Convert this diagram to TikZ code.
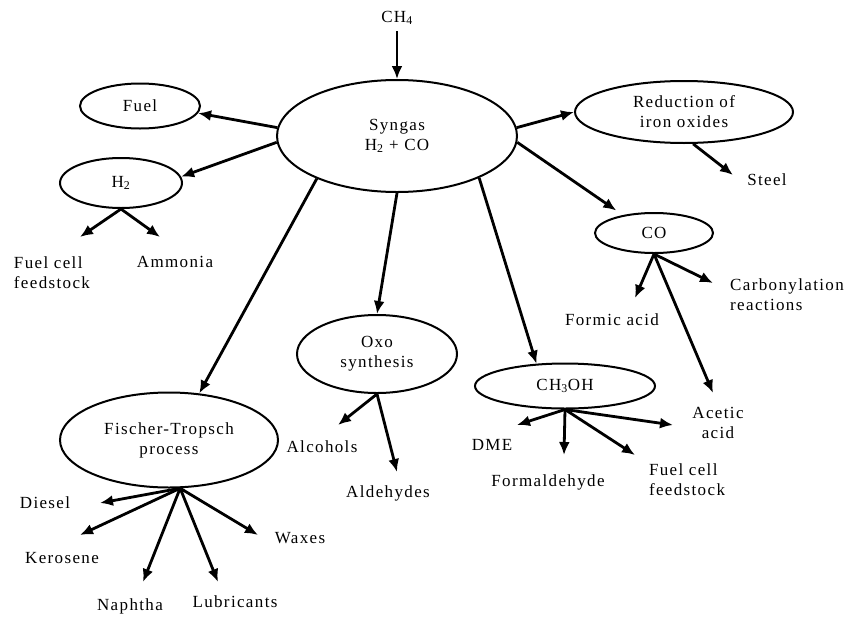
\documentclass[tikz,border=0pt]{standalone}
\usepackage{fontspec}
\setmainfont{Liberation Serif}[LetterSpace=8]
\usetikzlibrary{shapes.geometric}
\usetikzlibrary{arrows.meta}

\begin{document}
\begin{tikzpicture}[x=1pt,y=-1pt,
        font=\fontsize{17}{20}\selectfont,
        oval/.style={draw,ellipse,line width=2pt,inner sep=0pt,align=center},
        prod/.style={inner sep=0pt,align=left},
        arr/.style={line width=2.8pt,-{Latex[length=13pt,width=11pt]}}]
            \useasboundingbox (0,0) rectangle (848,616);
            \node (ch4) at (397,18) {CH\textsubscript{4}};
            \node[oval,minimum width=240,minimum height=112] (syn) at (397,136) {Syngas\\H\textsubscript{2} + CO};
            \node[oval,minimum width=120,minimum height=45] (fuel) at (140,106) {Fuel};
            \node[oval,minimum width=122,minimum height=50] (h2) at (121,183) {H\textsubscript{2}};
            \node[oval,minimum width=218,minimum height=62] (red) at (684,112) {Reduction of\\iron oxides};
            \node[oval,minimum width=118,minimum height=40] (co) at (654,233) {CO};
            \node[oval,minimum width=180,minimum height=45] (meoh) at (565,386) {CH\textsubscript{3}OH};
            \node[oval,minimum width=160,minimum height=78] (oxo) at (377,354) {Oxo\\synthesis};
            \node[oval,minimum width=218,minimum height=95] (ft) at (169,440) {Fischer-Tropsch\\process};

            \node[prod] (fcf) at (52,273) {Fuel cell\\feedstock};
            \node[prod] (ammonia) at (175,262) {Ammonia};
            \node[prod] (steel) at (767,180) {Steel};
            \node[prod] (formic) at (612,320) {Formic acid};
            \node[prod] (carbonyl) at (787,295) {Carbonylation\\reactions};
            \node[prod,align=center] (acetic) at (718,423) {Acetic\\acid};
            \node[prod] (dme) at (492,445) {DME};
            \node[prod] (formald) at (548,482) {Formaldehyde};
            \node[prod] (fcfm) at (687,480) {Fuel cell\\feedstock};
            \node[prod] (alcohols) at (322,447) {Alcohols};
            \node[prod] (aldehydes) at (388,493) {Aldehydes};
            \node[prod] (diesel) at (45,503) {Diesel};
            \node[prod] (kerosene) at (62,558) {Kerosene};
            \node[prod] (naphtha) at (130,606) {Naphtha};
            \node[prod] (lubric) at (235,602) {Lubricants};
            \node[prod] (waxes) at (300,538) {Waxes};

            \coordinate (fcf tip) at (80,237);
            \coordinate (ammonia tip) at (160,237);
            \coordinate (steel tip) at (733,175);
            \coordinate (formic tip) at (635,298);
            \coordinate (carbonyl tip) at (713,283);
            \coordinate (acetic tip) at (713,393);
            \coordinate (dme tip) at (517,425);
            \coordinate (formald tip) at (564,455);
            \coordinate (fcfm tip) at (635,455);
            \coordinate (acetic m tip) at (673,425);
            \coordinate (alcohols tip) at (338,425);
            \coordinate (aldehydes tip) at (397,472);
            \coordinate (diesel tip) at (100,503);
            \coordinate (kerosene tip) at (80,535);
            \coordinate (naphtha tip) at (143,582);
            \coordinate (lubric tip) at (218,582);
            \coordinate (waxes tip) at (258,535);

            \draw[arr,shorten <=3pt] (ch4) -- (syn);
            \draw[arr] (syn.176) -- (fuel.353);
            \draw[arr] (syn.183) -- (h2.6);
            \draw[arr] (syn.4) -- (red.180);
            \draw[arr,shorten >=8pt] (syn.357) -- (co.150);
            \draw[arr] (syn.333) -- (meoh.142);
            \draw[arr] (syn.south) -- (oxo.north);
            \draw[arr] (syn.208) -- (ft.57);

            \draw[arr] (h2.south) -- (fcf tip);
            \draw[arr] (h2.south) -- (ammonia tip);
            \draw[arr] (red.286) -- (steel tip);
            \draw[arr] (co.south) -- (formic tip);
            \draw[arr] (co.south) -- (carbonyl tip);
            \draw[arr] (co.south) -- (acetic tip);
            \draw[arr] (meoh.south) -- (dme tip);
            \draw[arr] (meoh.south) -- (formald tip);
            \draw[arr] (meoh.south) -- (fcfm tip);
            \draw[arr] (meoh.south) -- (acetic m tip);
            \draw[arr] (oxo.south) -- (alcohols tip);
            \draw[arr] (oxo.south) -- (aldehydes tip);
            \draw[arr] (ft.283) -- (diesel tip);
            \draw[arr] (ft.283) -- (kerosene tip);
            \draw[arr] (ft.283) -- (naphtha tip);
            \draw[arr] (ft.283) -- (lubric tip);
            \draw[arr] (ft.283) -- (waxes tip);
        \end{tikzpicture}
\end{document}
